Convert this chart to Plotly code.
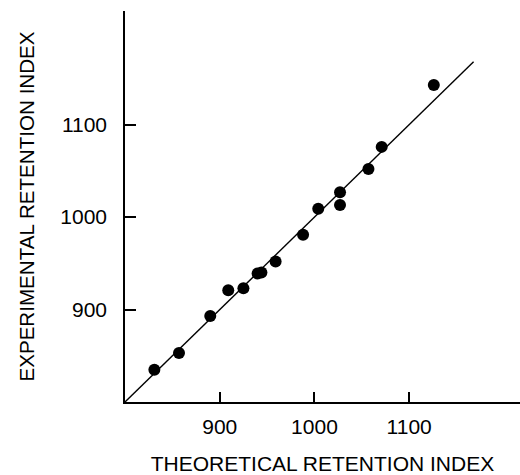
import plotly.graph_objects as go

theoretical = [831, 857, 890, 909, 925, 940, 944, 959, 988, 1004, 1027, 1027, 1057, 1071, 1126]
experimental = [835, 853, 893, 921, 923, 939, 940, 952, 981, 1009, 1027, 1013, 1052, 1076, 1143]
line_x = [800, 1168]
line_y = [800, 1168]
tick_vals = [900, 1000, 1100]
tick_text = ["900", "1000", "1100"]

font_family = "Liberation Sans, Arial, sans-serif"

fig = go.Figure()
fig.add_trace(go.Scatter(x=line_x, y=line_y, mode="lines",
                         line=dict(color="black", width=1.4), showlegend=False, hoverinfo="skip"))
fig.add_trace(go.Scatter(x=theoretical, y=experimental, mode="markers",
                         marker=dict(color="black", size=12), showlegend=False))

fig.update_layout(
    width=520, height=475,
    margin=dict(l=125, r=0, t=11, b=73),
    paper_bgcolor="white", plot_bgcolor="white",
    font=dict(family=font_family, color="black", size=21),
    xaxis=dict(range=[800, 1217], tickvals=tick_vals, ticktext=tick_text,
               ticks="inside", ticklen=10, tickwidth=1.5, tickcolor="black",
               showline=True, linecolor="black", linewidth=1.5, mirror=False,
               showgrid=False, zeroline=False, ticklabelstandoff=5,
               tickfont=dict(size=21),
               title=dict(text="THEORETICAL RETENTION INDEX", font=dict(size=21), standoff=21),
               automargin=False),
    yaxis=dict(range=[800, 1223], tickvals=tick_vals, ticktext=tick_text,
               ticks="inside", ticklen=11, tickwidth=1.5, tickcolor="black",
               showline=True, linecolor="black", linewidth=1.5, mirror=False,
               showgrid=False, zeroline=False, ticklabelstandoff=12,
               tickfont=dict(size=21),
               title=dict(text="EXPERIMENTAL RETENTION INDEX", font=dict(size=20.6), standoff=20),
               automargin=False),
)

fig.write_html("out.html")
